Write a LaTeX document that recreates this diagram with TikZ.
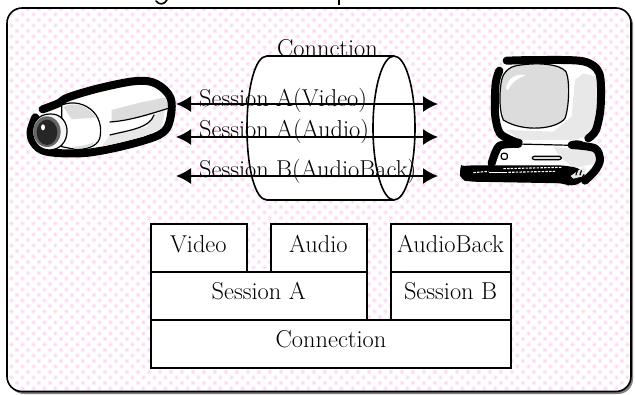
\documentclass[tikz,border=0pt]{standalone}
\usepackage{fontspec}
\usetikzlibrary{arrows.meta,patterns}
\definecolor{dotA}{HTML}{FFEBFA}
\definecolor{dotB}{HTML}{FFD0F5}
\definecolor{ltgray}{HTML}{DCDCDC}
\definecolor{ltgrayb}{HTML}{E8E8E8}
\pgfdeclarepatterninherentlycolored{pinkdots}{\pgfpoint{-2.8pt}{-2.8pt}}{\pgfpoint{8.2pt}{8.2pt}}{\pgfpoint{11pt}{11pt}}{%
  \pgfsetfillcolor{dotA}%
  \pgfpathcircle{\pgfpoint{6pt}{0pt}}{2.4pt}\pgfusepath{fill}%
  \pgfpathcircle{\pgfpoint{0.5pt}{5.5pt}}{2.4pt}\pgfusepath{fill}%
  \pgfsetfillcolor{dotB}%
  \pgfpathcircle{\pgfpoint{6pt}{0pt}}{1.2pt}\pgfusepath{fill}%
  \pgfpathcircle{\pgfpoint{0.5pt}{5.5pt}}{1.2pt}\pgfusepath{fill}%
}
\tikzset{
  x=1pt,y=-1pt,
  cell/.style={draw=black,fill=white,line width=1.6pt,inner sep=0pt,outer sep=0pt},
  celltext/.style={anchor=base,inner sep=0pt,text=black,font=\fontsize{24.4}{26}\selectfont},
  flowtext/.style={anchor=base west,inner sep=0pt,text=black,font=\fontsize{24.4}{26}\selectfont},
  flow/.style={line width=1.6pt,{Latex[length=15pt,width=16pt]}-{Latex[length=15pt,width=16pt]}},
  heavy/.style={line width=8pt,line cap=round,line join=round},
  inkline/.style={line width=1.2pt,line cap=round,line join=round},
  zoomed/.style={x=0.3333pt,y=-0.3333pt}
}
\begin{document}
\begin{tikzpicture}
\useasboundingbox (0,0) rectangle (635,394);
\fill[white] (0,0) rectangle (635,394);
% panel
\fill[black!50,rounded corners=15pt] (9,10) rectangle (633,394);
\fill[white,rounded corners=15pt] (7,8) rectangle (631,391.5);
\fill[pattern=pinkdots,rounded corners=15pt] (7,8) rectangle (631,391.5);
\draw[line width=1.6pt,rounded corners=15pt] (7,8) rectangle (631,391.5);
% clipped title descenders
\draw[line width=1.6pt,line cap=round] (156,1) .. controls (159,5) and (164,5) .. (167,0);
\draw[line width=1.6pt] (339,0) -- (339,5);
% camera
\begin{scope}[zoomed]
 \draw[heavy,fill=white] plot[smooth,tension=.6] coordinates {(128,328)(175,310)(205,292)(300,264)(410,243)(470,252)(512,295)(510,360)(488,398)(430,422)(330,447)(240,460)(140,455)(102,430)(92,395)(106,352)};
 \fill[ltgray] (335,330) -- (420,308) -- (498,292) -- (503,326) -- (450,345) -- (335,366) -- cycle;
 \fill[ltgrayb] (462,345) -- (495,330) -- (485,385) -- (430,410) -- (340,432) -- (305,440) -- (330,405) -- (440,380) -- cycle;
 \draw[inkline,fill=white] (185,315) .. controls (220,302) and (255,310) .. (280,335) .. controls (305,360) and (305,400) .. (298,418) .. controls (290,440) and (255,450) .. (225,448) -- (185,440) -- cycle;
 \fill[ltgray] (190,320) .. controls (225,305) and (260,315) .. (290,352) -- (215,358) -- cycle;
 \fill[ltgray] (215,440) .. controls (240,440) and (265,435) .. (285,425) .. controls (280,440) and (250,446) .. (225,446) -- cycle;
 \draw[inkline] (330,366) .. controls (390,362) and (450,342) .. (505,325);
 \draw[inkline] (330,405) .. controls (380,392) and (450,385) .. (462,345);
 \draw[inkline,fill=white!96!black] (150,342) .. controls (185,340) and (203,370) .. (201,397) .. controls (200,425) and (180,450) .. (148,450) .. controls (118,450) and (98,425) .. (98,395) .. controls (98,365) and (118,342) .. (150,342) -- cycle;
 \fill[black!60] (141,395) ellipse [x radius=41, y radius=46];
 \fill[black!85] (141,397) ellipse [x radius=31, y radius=38];
 \fill[white] (129,382) ellipse [x radius=6, y radius=9];
\end{scope}
% computer
\begin{scope}[shift={(440,40)},zoomed]
 \fill[white] (195,62) -- (430,62) -- (482,110) -- (482,200) -- (465,285) -- (470,330) -- (480,380) -- (150,380) -- (175,320) -- (180,280) -- (163,220) -- (165,130) -- cycle;
 \fill[ltgrayb] (430,100) -- (470,110) -- (470,200) -- (455,285) -- (400,300) -- (240,300) -- (200,270) -- (340,275) -- (395,230) -- (405,120) -- cycle;
 \fill[ltgrayb] (340,320) -- (460,335) -- (470,370) -- (400,385) -- (360,350) -- cycle;
 \draw[heavy] plot[smooth,tension=.5] coordinates {(200,62)(300,60)(430,64)(478,100)(482,200)(468,270)(445,295)};
 \draw[heavy] plot[smooth,tension=.5] coordinates {(178,92)(167,130)(165,220)(180,280)(225,305)};
 \draw[heavy] plot[smooth,tension=.5] coordinates {(235,312)(178,318)(155,370)};
 \draw[heavy] plot[smooth,tension=.5] coordinates {(395,315)(465,325)(480,360)(465,392)(435,422)};
 \fill[black] (228,306) ellipse [x radius=20, y radius=11];
 \fill[black] (410,313) ellipse [x radius=25, y radius=12];
 \draw[inkline] (232,312) -- (395,316);
 \draw[inkline,fill=ltgray] (225,78) .. controls (290,65) and (360,72) .. (378,95) .. controls (390,120) and (388,200) .. (375,235) .. controls (350,268) and (250,278) .. (190,240) .. controls (175,210) and (178,130) .. (190,105) .. controls (200,90) and (210,82) .. (225,78) -- cycle;
 \fill[white] (197,145) .. controls (205,115) and (225,100) .. (258,105) .. controls (235,115) and (215,125) .. (205,150) -- cycle;
 \draw[inkline,fill=white,rounded corners=2pt] (184,340) rectangle (202,358);
 \draw[inkline,fill=ltgray,rounded corners=2pt] (277,349) rectangle (364,359);
 \fill[black,rounded corners=6pt] (58,392) .. controls (62,380) and (90,376) .. (120,376) -- (370,376) -- (420,385) -- (440,405) -- (430,425) -- (395,440) -- (370,430) -- (90,425) -- (62,420) -- cycle;
 \draw[white,line width=1.1pt,dash pattern=on 2.5pt off 1.2pt] (190,386) -- (365,382);
 \draw[white,line width=1.1pt,dash pattern=on 2.5pt off 1.2pt] (100,398) -- (145,394);
 \draw[white,line width=1.5pt] (148,397) -- (200,397);
 \draw[white,line width=1.1pt,dash pattern=on 2.5pt off 1.2pt] (205,397) -- (345,394);
 \fill[ltgrayb] (392,408) -- (420,388) -- (438,392) -- (425,410) -- (400,416) -- cycle;
 \draw[inkline,black] (412,392) -- (408,405) (424,392) -- (420,405);
\end{scope}
% cylinder
\draw[line width=1.6pt,fill=white] (267,56) -- (393,56) -- (393,200) -- (267,200)
  .. controls (255,200) and (247,168) .. (247,128) .. controls (247,88) and (255,56) .. (267,56) -- cycle;
\draw[line width=1.6pt,fill=white] (394,128) ellipse [x radius=21, y radius=72];
\node[celltext] (conn) at (327.5,56) {Connction};
% flow labels and arrows
\node[flowtext] (t1) at (199,106) {Session A(Video)};
\node[flowtext] (t2) at (199,137) {Session A(Audio)};
\node[flowtext] (t3) at (199,177) {Session B(AudioBack)};
\coordinate (a1) at (176,104); \coordinate (b1) at (438,104);
\coordinate (a2) at (176,137); \coordinate (b2) at (438,137);
\coordinate (a3) at (176,176); \coordinate (b3) at (438,176);
\draw[flow] (a1) -- (b1);
\draw[flow] (a2) -- (b2);
\draw[flow] (a3) -- (b3);
% stack
\node[cell,anchor=north west,minimum width=96pt,minimum height=48pt] (video) at (150.7,224) {};
\node[cell,anchor=north west,minimum width=96pt,minimum height=48pt] (audio) at (270.7,224) {};
\node[cell,anchor=north west,minimum width=120pt,minimum height=48pt] (back) at (390.7,224) {};
\node[cell,anchor=north west,minimum width=216pt,minimum height=48pt] (sa) at (150.7,272) {};
\node[cell,anchor=north west,minimum width=120pt,minimum height=48pt] (sb) at (390.7,272) {};
\node[cell,anchor=north west,minimum width=360pt,minimum height=48pt] (cn) at (150.7,320) {};
\node[celltext] (videot) at (198.3,252) {Video};
\node[celltext] (audiot) at (318.3,252) {Audio};
\node[celltext] (backt) at (450.5,252) {AudioBack};
\node[celltext] (sat) at (258.7,299.5) {Session A};
\node[celltext] (sbt) at (450.5,299.5) {Session B};
\node[celltext] (cnt) at (331,347.5) {Connection};
\end{tikzpicture}
\end{document}
